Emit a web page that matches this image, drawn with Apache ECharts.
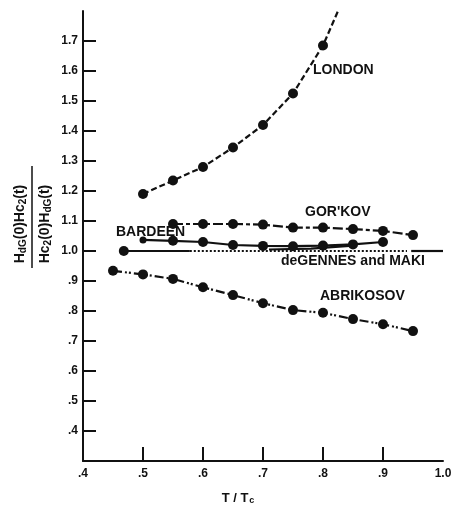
<!DOCTYPE html>
<html>
<head>
<meta charset="utf-8">
<script src="https://cdn.jsdelivr.net/npm/echarts@6/dist/echarts.min.js"></script>
<style>
  html, body { margin: 0; padding: 0; background: #fff; }
  #chart { width: 459px; height: 510px; }
</style>
</head>
<body>
<div id="chart"></div>
<script>
// Reduced temperature T/Tc
const londonT    = [0.50, 0.55, 0.60, 0.65, 0.70, 0.75, 0.80];
const londonR    = [1.19, 1.235, 1.28, 1.345, 1.42, 1.525, 1.685];
const londonEnd  = [0.825, 1.80];   // curve continues past the last computed point

const gorkovT    = [0.55, 0.60, 0.65, 0.70, 0.75, 0.80, 0.85, 0.90, 0.95];
const gorkovR    = [1.09, 1.09, 1.09, 1.088, 1.078, 1.078, 1.073, 1.067, 1.053];

const bardeenT   = [0.50, 0.55, 0.60, 0.65, 0.70, 0.75, 0.80, 0.85, 0.90];
const bardeenR   = [1.037, 1.034, 1.03, 1.02, 1.017, 1.016, 1.018, 1.022, 1.03];

const abrikosovT = [0.45, 0.50, 0.55, 0.60, 0.65, 0.70, 0.75, 0.80, 0.85, 0.90, 0.95];
const abrikosovR = [0.934, 0.922, 0.907, 0.879, 0.853, 0.826, 0.803, 0.794, 0.773, 0.756, 0.733];

// de Gennes and Maki: flat at 1.0, drawn as solid / dotted / solid pieces
const dgmSolidA  = [[0.468, 1.0], [0.578, 1.0]];
const dgmDotted  = [[0.578, 1.0], [0.940, 1.0]];
const dgmSolidB  = [[0.947, 1.0], [1.0, 1.0]];
const dgmBranch  = [[0.71, 1.005], [0.78, 1.008], [0.85, 1.018]];

const xTicks = [0.5, 0.6, 0.7, 0.8, 0.9];
const xLabels = [0.4, 0.5, 0.6, 0.7, 0.8, 0.9, 1.0];
const yTicks = [0.4, 0.5, 0.6, 0.7, 0.8, 0.9, 1.0, 1.1, 1.2, 1.3, 1.4, 1.5, 1.6, 1.7];

const FONT = '"Liberation Sans", Arial, Helvetica, sans-serif';
const INK = '#111';

function pairs(xs, ys) { return xs.map((x, i) => [x, ys[i]]); }
function fmt(v) {
  const r = Math.round(v * 10) / 10;
  const s = r.toFixed(1);
  return r < 1 ? s.slice(1) : s;
}

const londonData = pairs(londonT, londonR);
londonData.push({ value: londonEnd, symbol: 'none' });

const bardeenData = pairs(bardeenT, bardeenR).map((p, i) =>
  i === 0 ? { value: p, symbolSize: 7 } : p);

function lineSeries(data, type, extra) {
  return Object.assign({
    type: 'line',
    data: data,
    symbol: 'circle',
    symbolSize: 10,
    showSymbol: true,
    itemStyle: { color: INK },
    lineStyle: { color: INK, width: 2.2, type: type },
    animation: false,
    z: 3
  }, extra || {});
}

const subStyle = { fontSize: 10, fontWeight: 'bold', fontFamily: FONT, padding: [6, 0, 0, 0] };

const chart = echarts.init(document.getElementById('chart'), null, { renderer: 'canvas' });

chart.setOption({
  backgroundColor: '#fff',
  animation: false,
  grid: { left: 83, right: 16, top: 11, bottom: 49, containLabel: false },
  xAxis: {
    type: 'value',
    min: 0.4, max: 1.0, interval: 0.1,
    splitLine: { show: false },
    axisLine: { show: true, onZero: false, lineStyle: { color: INK, width: 2 } },
    axisTick: { show: true, inside: true, length: 14, customValues: xTicks, lineStyle: { color: INK, width: 2 } },
    axisLabel: {
      customValues: xLabels,
      formatter: fmt, color: INK, fontFamily: FONT, fontWeight: 'bold', fontSize: 12, margin: 7
    }
  },
  yAxis: {
    type: 'value',
    min: 0.3, max: 1.8, interval: 0.1,
    splitLine: { show: false },
    axisLine: { show: true, onZero: false, lineStyle: { color: INK, width: 2 } },
    axisTick: { show: true, inside: true, length: 13, customValues: yTicks, lineStyle: { color: INK, width: 2 } },
    axisLabel: {
      customValues: yTicks,
      formatter: fmt, color: INK, fontFamily: FONT, fontWeight: 'bold', fontSize: 12, margin: 5
    }
  },
  series: [
    lineSeries(londonData, [6, 3]),
    lineSeries(pairs(gorkovT, gorkovR), [10, 3, 4, 3]),
    lineSeries(bardeenData, 'solid'),
    lineSeries(pairs(abrikosovT, abrikosovR), [9, 3, 2, 2, 2, 3]),
    lineSeries(dgmSolidA, 'solid', { data: [{ value: dgmSolidA[0], symbol: 'circle' }, { value: dgmSolidA[1], symbol: 'none' }] }),
    lineSeries(dgmDotted, [2, 2], { symbol: 'none' }),
    lineSeries(dgmSolidB, 'solid', { symbol: 'none' }),
    lineSeries(dgmBranch, 'solid', { symbol: 'none' })
  ],
  graphic: [
    // curve labels
    { type: 'text', left: 313, top: 63, style: { text: 'LONDON', font: 'bold 14px ' + FONT, fill: INK } },
    { type: 'text', left: 305, top: 205, style: { text: "GOR'KOV", font: 'bold 14px ' + FONT, fill: INK } },
    { type: 'text', left: 116, top: 225, style: { text: 'BARDEEN', font: 'bold 14px ' + FONT, fill: INK } },
    { type: 'text', left: 281, top: 254, style: { text: 'deGENNES and MAKI', font: 'bold 14px ' + FONT, fill: INK } },
    { type: 'text', left: 320, top: 289, style: { text: 'ABRIKOSOV', font: 'bold 14px ' + FONT, fill: INK } },
    // x-axis title  T / Tc
    {
      type: 'text', x: 238, y: 498,
      style: {
        text: 'T / T{s|c}', align: 'center', verticalAlign: 'middle',
        font: 'bold 13px ' + FONT, fill: INK,
        rich: { s: { fontSize: 9, fontWeight: 'bold', fontFamily: FONT, padding: [6, 0, 0, 1] } }
      }
    },
    // y-axis title: fraction written bottom-to-top
    {
      type: 'group', x: 32, y: 217, rotation: Math.PI / 2,
      children: [
        {
          type: 'text', x: -7, y: -12,
          style: {
            text: 'H{s|dG}(0)Hc{s|2}(t)', align: 'center', verticalAlign: 'middle',
            font: 'bold 14px ' + FONT, fill: INK, rich: { s: subStyle }
          }
        },
        { type: 'line', shape: { x1: -51, y1: 0, x2: 51, y2: 0 }, style: { stroke: INK, lineWidth: 1.5 } },
        {
          type: 'text', x: -7, y: 13,
          style: {
            text: 'Hc{s|2}(0)H{s|dG}(t)', align: 'center', verticalAlign: 'middle',
            font: 'bold 14px ' + FONT, fill: INK, rich: { s: subStyle }
          }
        }
      ]
    }
  ]
});
</script>
</body>
</html>
